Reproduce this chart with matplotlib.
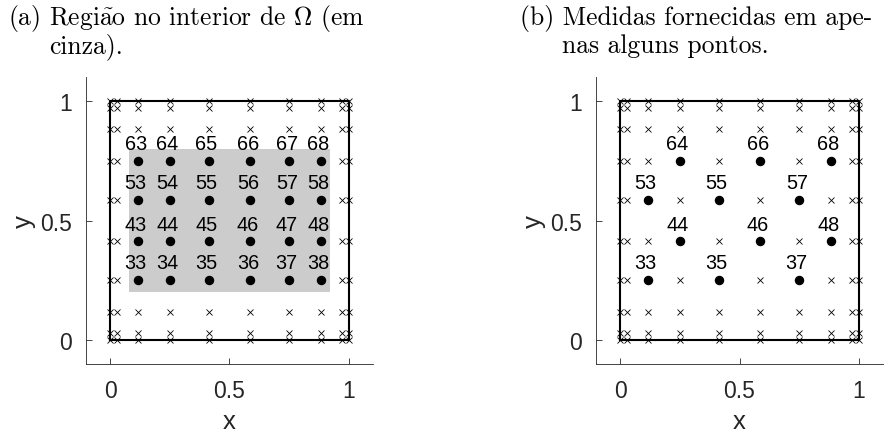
import matplotlib
matplotlib.use("Agg")
import matplotlib.pyplot as plt
from matplotlib.patches import Rectangle

# Collocation nodes along each direction (same in x and y)
nodes = [0.0, 0.03, 0.117, 0.25, 0.413, 0.587, 0.75, 0.883, 0.97, 1.0]

# Node numbers (row*10 + column, column counted from 1) shown in each panel
labels_a = [33, 34, 35, 36, 37, 38,
            43, 44, 45, 46, 47, 48,
            53, 54, 55, 56, 57, 58,
            63, 64, 65, 66, 67, 68]
labels_b = [33, 35, 37, 44, 46, 48, 53, 55, 57, 64, 66, 68]

# Interior region (gray) in panel (a)
region_x = [0.08, 0.92]
region_y = [0.20, 0.80]

ticks = [0, 0.5, 1]
tick_text = ["0", "0.5", "1"]

plt.rcParams["mathtext.fontset"] = "cm"
sans = ["Liberation Sans", "DejaVu Sans"]
axcol = "#262626"

fig = plt.figure(figsize=(8.93, 4.35), dpi=100)
W, H = 893, 435


def node_xy(num):
    return nodes[num % 10 - 1], nodes[num // 10]


def draw_panel(ax, labels, shade):
    if shade:
        ax.add_patch(Rectangle((region_x[0], region_y[0]),
                               region_x[1] - region_x[0],
                               region_y[1] - region_y[0],
                               facecolor="#cccccc", edgecolor="none", zorder=1))
    # domain boundary
    ax.plot([0, 1, 1, 0, 0], [0, 0, 1, 1, 0], color="black", lw=1.5, zorder=2)
    marked = {node_xy(n) for n in labels}
    xs, ys = [], []
    for yv in nodes:
        for xv in nodes:
            if (xv, yv) not in marked:
                xs.append(xv)
                ys.append(yv)
    ax.plot(xs, ys, linestyle="none", marker="x", color="black",
            markersize=4.2, markeredgewidth=0.6, zorder=3)
    for n in labels:
        xv, yv = node_xy(n)
        ax.plot(xv, yv, linestyle="none", marker="o", color="black",
                markersize=5.8, zorder=4)
        ax.text(xv - 0.01, yv + 0.033, str(n), ha="center", va="bottom",
                fontsize=14.3, family=sans, color="black", zorder=5)

    ax.set_xlim(-0.1, 1.1)
    ax.set_ylim(-0.1, 1.1)
    ax.set_xticks(ticks)
    ax.set_xticklabels(tick_text)
    ax.set_yticks(ticks)
    ax.set_yticklabels(tick_text)
    for s in ("top", "right"):
        ax.spines[s].set_visible(False)
    for s in ("left", "bottom"):
        ax.spines[s].set_color(axcol)
        ax.spines[s].set_linewidth(0.6)
    ax.tick_params(direction="in", length=4, width=0.6, color=axcol,
                   labelsize=16.5, labelcolor=axcol)
    ax.tick_params(axis="x", pad=11)
    ax.tick_params(axis="y", pad=10.5)
    for lab in ax.get_xticklabels() + ax.get_yticklabels():
        lab.set_family(sans)
    ax.set_xlabel("x", fontsize=18.5, family=sans, color=axcol, labelpad=5)
    ax.set_ylabel("y", fontsize=18.5, family=sans, color=axcol, labelpad=3)


ax_w, ax_h = 286.4 / W, 286.7 / H
bottom = (H - 365.0) / H
ax_a = fig.add_axes([86.3 / W, bottom, ax_w, ax_h])
ax_b = fig.add_axes([596.3 / W, bottom, ax_w, ax_h])
draw_panel(ax_a, labels_a, True)
draw_panel(ax_b, labels_b, False)

tfont = dict(fontsize=18.4, family="cmr10", color="black", va="baseline")
fig.text(8 / W, 1 - 25 / H, r"(a) Regi$\tilde{\mathrm{a}}$o no interior de $\Omega$ (em", **tfont)
fig.text(49 / W, 1 - 53 / H, "cinza).", **tfont)
fig.text(520 / W, 1 - 25 / H, "(b) Medidas fornecidas em ape-", **tfont)
fig.text(562 / W, 1 - 53 / H, "nas alguns pontos.", **tfont)

fig.savefig("out.png", dpi=100)
